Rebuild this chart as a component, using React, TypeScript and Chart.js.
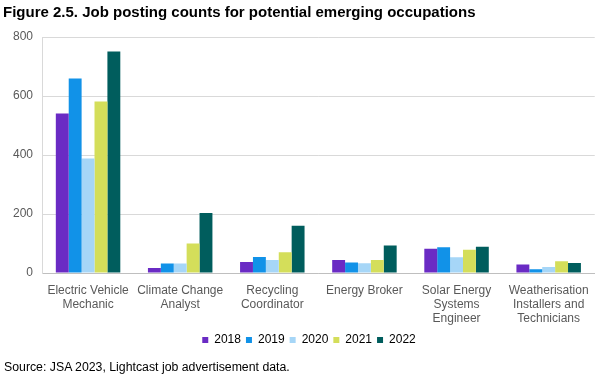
import React, { useEffect, useRef } from "react";
import { Chart, registerables } from "chart.js";

Chart.register(...registerables);

const categories: string[][] = [
  ["Electric Vehicle", "Mechanic"],
  ["Climate Change", "Analyst"],
  ["Recycling", "Coordinator"],
  ["Energy Broker"],
  ["Solar Energy", "Systems", "Engineer"],
  ["Weatherisation", "Installers and", "Technicians"],
];

const series2018 = [541, 17, 37, 44, 82, 29];
const series2019 = [659, 32, 54, 36, 87, 13];
const series2020 = [388, 32, 44, 33, 53, 20];
const series2021 = [581, 100, 70, 44, 79, 40];
const series2022 = [751, 203, 160, 93, 89, 34];

const yearLabels = ["2018", "2019", "2020", "2021", "2022"];
const yearColors = ["#6a2bc4", "#1192e8", "#a6d6f7", "#d4de5a", "#005d5d"];

const titleText = "Figure 2.5. Job posting counts for potential emerging occupations";
const sourceText = "Source: JSA 2023, Lightcast job advertisement data.";

const FONT = "'Liberation Sans', Arial, sans-serif";

const unclipYLabels = {
  id: "unclipYLabels",
  afterLayout(chart: any) {
    const s = chart.scales.y;
    if (s) s.left = 0;
  },
};

export default function App() {
  const ref = useRef<HTMLCanvasElement | null>(null);
  useEffect(() => {
    if (!ref.current) return;
    const all = [series2018, series2019, series2020, series2021, series2022];
    const chart = new Chart(ref.current, {
      type: "bar",
      data: {
        labels: categories,
        datasets: all.map((d, i) => ({
          label: yearLabels[i],
          data: d,
          backgroundColor: yearColors[i],
          borderWidth: 0,
          barPercentage: 1,
          categoryPercentage: 0.7,
        })),
      },
      plugins: [unclipYLabels],
      options: {
        animation: false,
        responsive: false,
        maintainAspectRatio: false,
        layout: { padding: { left: 23, right: 5, top: 37, bottom: 19 } },
        plugins: {
          title: { display: false },
          legend: {
            position: "bottom",
            labels: {
              boxWidth: 6,
              boxHeight: 6,
              padding: 5,
              color: "#000000",
              font: { family: FONT, size: 12 },
            },
          },
          tooltip: { enabled: false },
        },
        scales: {
          x: {
            grid: { display: false, drawTicks: false },
            border: { display: true, color: "#bfbfbf" },
            ticks: {
              color: "#595959",
              font: { family: FONT, size: 12, lineHeight: 1.17 },
              maxRotation: 0,
              autoSkip: false,
              padding: 11,
            },
            afterFit: (scale: any) => {
              scale.height = 56;
            },
          },
          y: {
            min: 0,
            max: 800,
            grid: { color: "#d9d9d9", drawTicks: false },
            border: { display: true, color: "#d9d9d9" },
            ticks: {
              stepSize: 200,
              color: "#595959",
              font: { family: FONT, size: 12 },
              padding: 9,
            },
            afterFit: (scale: any) => {
              scale.width = 19;
            },
          },
        },
      },
    });
    return () => chart.destroy();
  }, []);
  return (
    <div style={{ position: "absolute", left: 0, top: 0, width: 600, height: 375, background: "#fff" }}>
      <canvas ref={ref} width={600} height={375} style={{ display: "block", position: "absolute", left: 0, top: 0 }} />
      <div
        style={{
          position: "absolute",
          left: 3,
          top: 3,
          fontFamily: FONT,
          fontWeight: "bold",
          fontSize: 15,
          lineHeight: "17px",
          color: "#000",
          whiteSpace: "nowrap",
        }}
      >
        {titleText}
      </div>
      <div
        style={{
          position: "absolute",
          left: 4,
          top: 359,
          fontFamily: FONT,
          fontSize: 12.3,
          lineHeight: "16px",
          color: "#000",
          whiteSpace: "nowrap",
        }}
      >
        {sourceText}
      </div>
    </div>
  );
}
